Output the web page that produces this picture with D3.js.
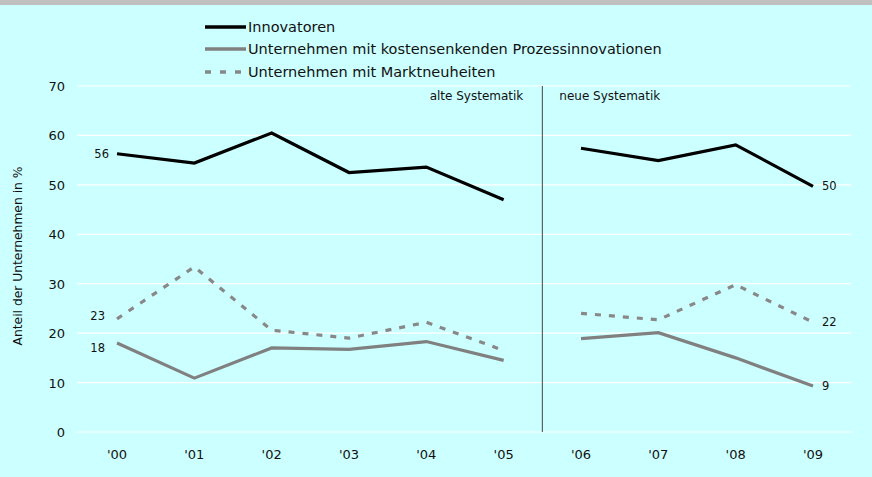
<!DOCTYPE html>
<html>
<head>
<meta charset="utf-8">
<script src="https://cdn.jsdelivr.net/npm/d3@7"></script>
<style>
  body { margin: 0; background: #ccffff; }
  svg { display: block; }
</style>
</head>
<body>
<script>
// chart size
var width = 872;
var height = 477;

// data
var years = ["'00", "'01", "'02", "'03", "'04", "'05", "'06", "'07", "'08", "'09"];
var innovatoren = [56.3, 54.4, 60.5, 52.5, 53.6, 47.0, 57.4, 54.9, 58.1, 49.7];
var prozess = [18.0, 10.9, 17.0, 16.7, 18.3, 14.5, 18.9, 20.1, 15.0, 9.3];
var markt = [22.9, 33.4, 20.6, 19.0, 22.2, 16.5, 24.0, 22.7, 29.8, 22.2];
var yTicks = [0, 10, 20, 30, 40, 50, 60, 70];
var seriesNames = ["Innovatoren", "Unternehmen mit kostensenkenden Prozessinnovationen", "Unternehmen mit Marktneuheiten"];

var font = "DejaVu Sans, Verdana, sans-serif";

var svg = d3.select("body").append("svg")
  .attr("width", width)
  .attr("height", height);

svg.append("rect").attr("width", width).attr("height", height).attr("fill", "#ccffff");
// grey band at top
svg.append("rect").attr("width", width).attr("height", 5).attr("fill", "#c0c0c0");

var xScale = d3.scalePoint().domain(years).range([117, 813]);
var yScale = d3.scaleLinear().domain([0, 70]).range([432, 86]);

// gridlines
svg.append("g").selectAll("line")
  .data(yTicks)
  .enter().append("line")
  .attr("x1", 77).attr("x2", 851)
  .attr("y1", d => yScale(d)).attr("y2", d => yScale(d))
  .attr("stroke", "#ffffff").attr("stroke-width", 1.2);

// y tick labels
svg.append("g").selectAll("text")
  .data(yTicks)
  .enter().append("text")
  .attr("x", 65).attr("y", d => yScale(d) + 5)
  .attr("text-anchor", "end")
  .attr("font-family", font).attr("font-size", 13)
  .attr("fill", "#111")
  .text(d => d);

// x tick labels
svg.append("g").selectAll("text")
  .data(years)
  .enter().append("text")
  .attr("x", d => xScale(d)).attr("y", 459)
  .attr("text-anchor", "middle")
  .attr("font-family", font).attr("font-size", 13)
  .attr("fill", "#111")
  .text(d => d);

// y axis title
svg.append("text")
  .attr("transform", "translate(22,256) rotate(-90)")
  .attr("text-anchor", "middle")
  .attr("font-family", font).attr("font-size", 12.3)
  .attr("fill", "#111")
  .text("Anteil der Unternehmen in %");

// divider between old and new system
var divX = (xScale("'05") + xScale("'06")) / 2;
svg.append("line")
  .attr("x1", divX).attr("x2", divX)
  .attr("y1", yScale(70)).attr("y2", yScale(0))
  .attr("stroke", "#444").attr("stroke-width", 1);

svg.append("text")
  .attr("x", divX - 19).attr("y", 100)
  .attr("text-anchor", "end")
  .attr("font-family", font).attr("font-size", 12)
  .attr("fill", "#111")
  .text("alte Systematik");
svg.append("text")
  .attr("x", divX + 17).attr("y", 100)
  .attr("font-family", font).attr("font-size", 12)
  .attr("fill", "#111")
  .text("neue Systematik");

// series, split into two segments at the divider
var series = [
  { values: markt, color: "#888888", dash: "6,8" },
  { values: prozess, color: "#808080", dash: null },
  { values: innovatoren, color: "#000000", dash: null }
];

var line = d3.line()
  .x(d => xScale(d.year))
  .y(d => yScale(d.value));

series.forEach(function(s) {
  var pts = years.map((y, i) => ({ year: y, value: s.values[i] }));
  [pts.slice(0, 6), pts.slice(6)].forEach(function(seg) {
    svg.append("path")
      .datum(seg)
      .attr("d", line)
      .attr("fill", "none")
      .attr("stroke", s.color)
      .attr("stroke-width", 3.2)
      .attr("stroke-dasharray", s.dash)
      .attr("stroke-linejoin", "miter");
  });
});

// value labels at the ends
var labelFont = 11.5;
function valueLabel(x, y, txt, anchor) {
  svg.append("text")
    .attr("x", x).attr("y", y)
    .attr("text-anchor", anchor)
    .attr("font-family", font).attr("font-size", labelFont)
    .attr("fill", "#111")
    .text(txt);
}
valueLabel(xScale("'00") - 8, yScale(innovatoren[0]) + 4, "56", "end");
valueLabel(xScale("'00") - 12, yScale(markt[0]) + 1, "23", "end");
valueLabel(xScale("'00") - 12, yScale(prozess[0]) + 9, "18", "end");
valueLabel(xScale("'09") + 9, yScale(innovatoren[9]) + 4, "50", "start");
valueLabel(xScale("'09") + 9, yScale(markt[9]) + 4, "22", "start");
valueLabel(xScale("'09") + 9, yScale(prozess[9]) + 4, "9", "start");

// legend
var legend = svg.append("g");
var legendY = [27, 49, 72];
var legendStyle = [
  { color: "#000000", dash: null },
  { color: "#808080", dash: null },
  { color: "#888888", dash: "6,9" }
];
seriesNames.forEach(function(name, i) {
  legend.append("line")
    .attr("x1", 205).attr("x2", 246)
    .attr("y1", legendY[i]).attr("y2", legendY[i])
    .attr("stroke", legendStyle[i].color)
    .attr("stroke-width", 3.5)
    .attr("stroke-dasharray", legendStyle[i].dash);
  legend.append("text")
    .attr("x", 248).attr("y", legendY[i] + 5)
    .attr("font-family", font).attr("font-size", 14.5)
    .attr("fill", "#111")
    .text(name);
});
</script>
</body>
</html>
